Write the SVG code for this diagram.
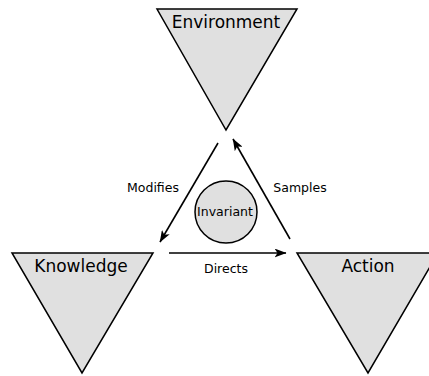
<svg xmlns="http://www.w3.org/2000/svg" width="429" height="376" viewBox="0 0 429 376">
<defs>
<style>
.node{fill:#e0e0e0;stroke:#000;stroke-width:1.5;stroke-linejoin:miter}
.big{font-family:"DejaVu Sans",sans-serif;font-size:17px;fill:#000;text-anchor:middle}
.small{font-family:"DejaVu Sans",sans-serif;font-size:12.5px;fill:#000;text-anchor:middle}
.edge{stroke:#000;stroke-width:1.6;fill:none;marker-end:url(#ah)}
</style>
<marker id="ah" viewBox="0 0 12 9" refX="11.5" refY="4.5" markerWidth="12" markerHeight="9" markerUnits="userSpaceOnUse" orient="auto">
<path d="M0,0 L12,4.5 L0,9 L3,4.5 Z" fill="#000"/>
</marker>
</defs>
<g id="environment">
<polygon class="node" points="157,9 297,9 226,130"/>
<text class="big" x="226" y="28">Environment</text>
</g>
<g id="knowledge">
<polygon class="node" points="12,253 153,253 82,373"/>
<text class="big" x="81" y="272">Knowledge</text>
</g>
<g id="action">
<polygon class="node" points="297,253 438,253 368,373"/>
<text class="big" x="368" y="272">Action</text>
</g>
<g id="invariant">
<circle class="node" cx="226" cy="212" r="31"/>
<text class="small" x="225" y="216">Invariant</text>
</g>
<g id="connectors">
<line class="edge" x1="218" y1="143" x2="160" y2="242"/>
<line class="edge" x1="290" y1="239" x2="233" y2="139"/>
<line class="edge" x1="169" y1="253" x2="286" y2="253"/>
<text class="small" x="153" y="192">Modifies</text>
<text class="small" x="300" y="192">Samples</text>
<text class="small" x="226" y="273">Directs</text>
</g>
</svg>
